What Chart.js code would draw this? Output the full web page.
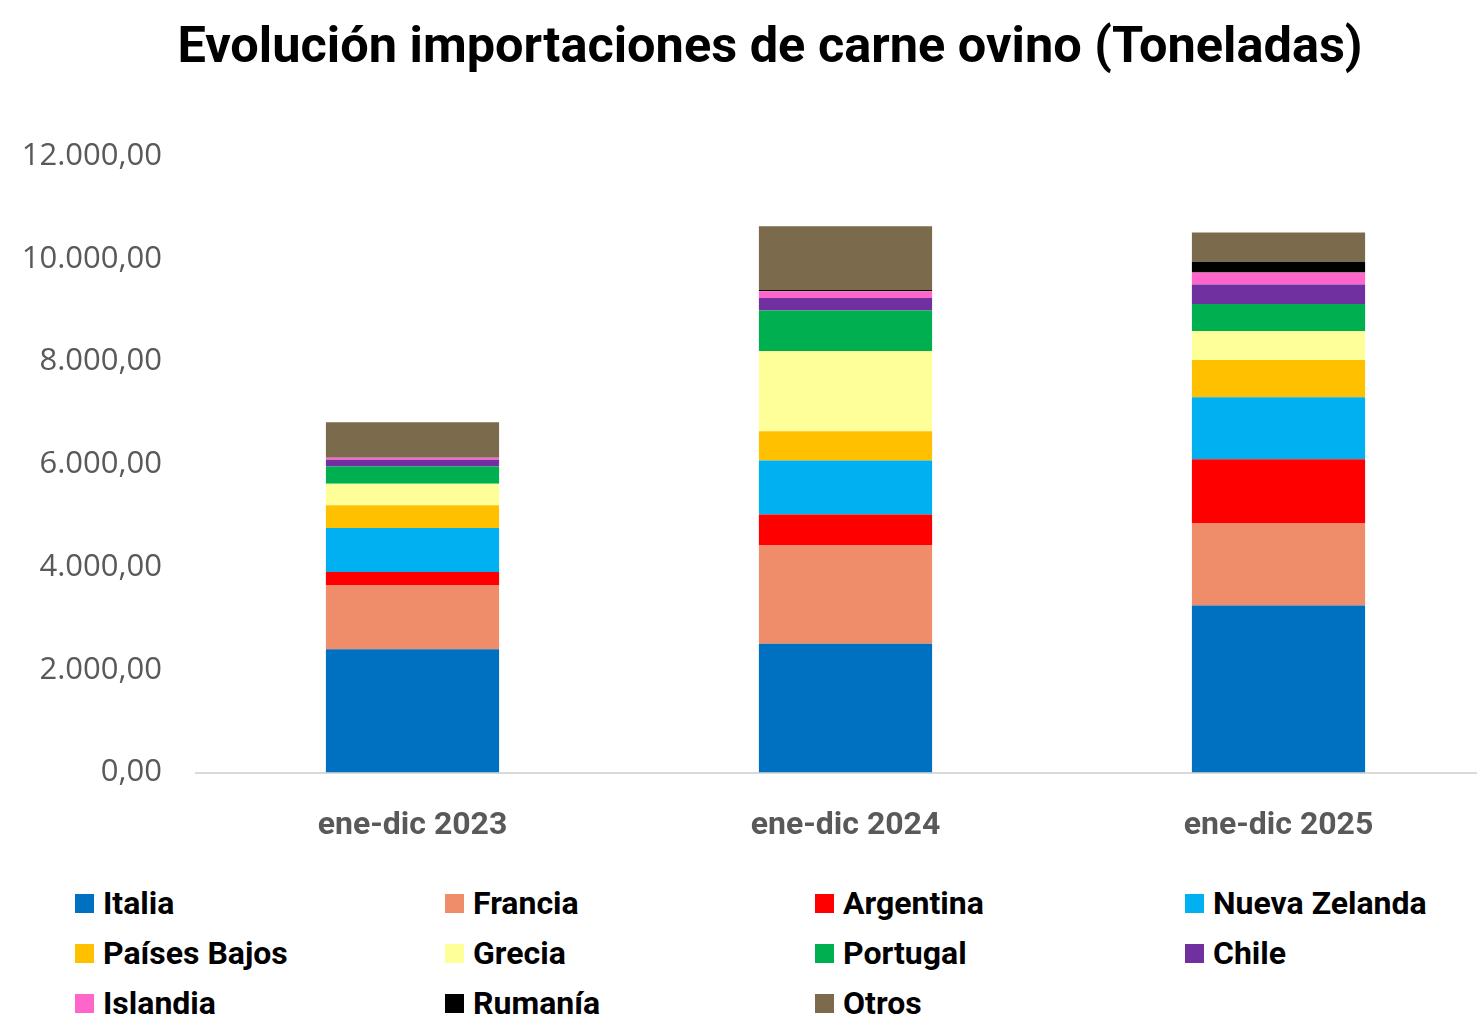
<!DOCTYPE html>
<html>
<head>
<meta charset="utf-8">
<script src="https://cdn.jsdelivr.net/npm/chart.js@4"></script>
<style>
  html, body { margin: 0; padding: 0; background: #fff; overflow: hidden; }
  #wrap { position: relative; width: 1495px; height: 879px; }
  #title {
    position: absolute; left: 0; top: 17px; width: 1540px; text-align: center;
    font-family: Roboto, sans-serif; font-weight: bold; font-size: 50.5px; line-height: 56px; color: #000;
  }
  #legend {
    position: absolute; left: 75px; top: 884px;
    display: grid; grid-template-columns: repeat(4, 370px); row-gap: 12px;
    font-family: Roboto, sans-serif;
    font-weight: bold; font-size: 32px; color: #000;
  }
  #legend div { display: flex; align-items: center; height: 38px; white-space: nowrap; }
  #legend span.box { width: 19px; height: 19px; margin-right: 9px; display: inline-block; }
</style>
</head>
<body>
<div id="wrap"><canvas id="chart" width="1495" height="879"></canvas></div>
<div id="title">Evolución importaciones de carne ovino (Toneladas)</div>
<div id="legend"></div>
<script>
// Categories and series (toneladas)
const periods = ['ene-dic 2023', 'ene-dic 2024', 'ene-dic 2025'];
const italia = [2400, 2510, 3250];
const francia = [1240, 1910, 1600];
const argentina = [265, 604, 1247];
const nuevaZelanda = [857, 1052, 1208];
const paisesBajos = [443, 565, 726];
const grecia = [415, 1565, 565];
const portugal = [339, 787, 526];
const chile = [128, 245, 378];
const islandia = [39, 131, 234];
const rumania = [0, 25, 206];
const otros = [690, 1241, 573];

const series = [
  { label: 'Italia', data: italia, color: '#0070C0' },
  { label: 'Francia', data: francia, color: '#EF8C6A' },
  { label: 'Argentina', data: argentina, color: '#FF0000' },
  { label: 'Nueva Zelanda', data: nuevaZelanda, color: '#00B0F0' },
  { label: 'Países Bajos', data: paisesBajos, color: '#FFC000' },
  { label: 'Grecia', data: grecia, color: '#FFFF99' },
  { label: 'Portugal', data: portugal, color: '#00B050' },
  { label: 'Chile', data: chile, color: '#7030A0' },
  { label: 'Islandia', data: islandia, color: '#FF66CC' },
  { label: 'Rumanía', data: rumania, color: '#000000' },
  { label: 'Otros', data: otros, color: '#7B6A4B' },
];

// 12000 -> "12.000,00"
function fmt(v) {
  const s = String(Math.round(v)).replace(/\B(?=(\d{3})+(?!\d))/g, '.');
  return s + ',00';
}

const chart = new Chart(document.getElementById('chart'), {
  type: 'bar',
  data: {
    labels: periods,
    datasets: series.map(s => ({
      label: s.label,
      data: s.data,
      backgroundColor: s.color,
      borderWidth: 0,
      categoryPercentage: 0.8,
      barPercentage: 0.5,
    })),
  },
  options: {
    responsive: false,
    animation: false,
    devicePixelRatio: 1,
    layout: { padding: { left: 20, right: 0, top: 156, bottom: 0 } },
    plugins: {
      legend: { display: false },
      tooltip: { enabled: false },
    },
    scales: {
      x: {
        stacked: true,
        grid: { display: false, drawTicks: false },
        border: { display: true, color: '#D9D9D9', width: 2 },
        ticks: {
          color: '#595959',
          padding: 34,
          font: { family: 'Roboto, sans-serif', size: 32, weight: 'bold' },
        },
      },
      y: {
        stacked: true,
        min: 0,
        max: 12000,
        afterFit: axis => { axis.width = 176; },
        grid: { display: false, drawTicks: false },
        border: { display: false },
        ticks: {
          stepSize: 2000,
          color: '#595959',
          padding: 34,
          font: { family: '"Open Sans", sans-serif', size: 31 },
          callback: v => fmt(v),
        },
      },
    },
  },
});

// Legend laid out in four columns like the original
const legend = document.getElementById('legend');
chart.data.datasets.forEach(ds => {
  const item = document.createElement('div');
  item.innerHTML = `<span class="box" style="background:${ds.backgroundColor}"></span>${ds.label}`;
  legend.appendChild(item);
});
</script>
</body>
</html>
